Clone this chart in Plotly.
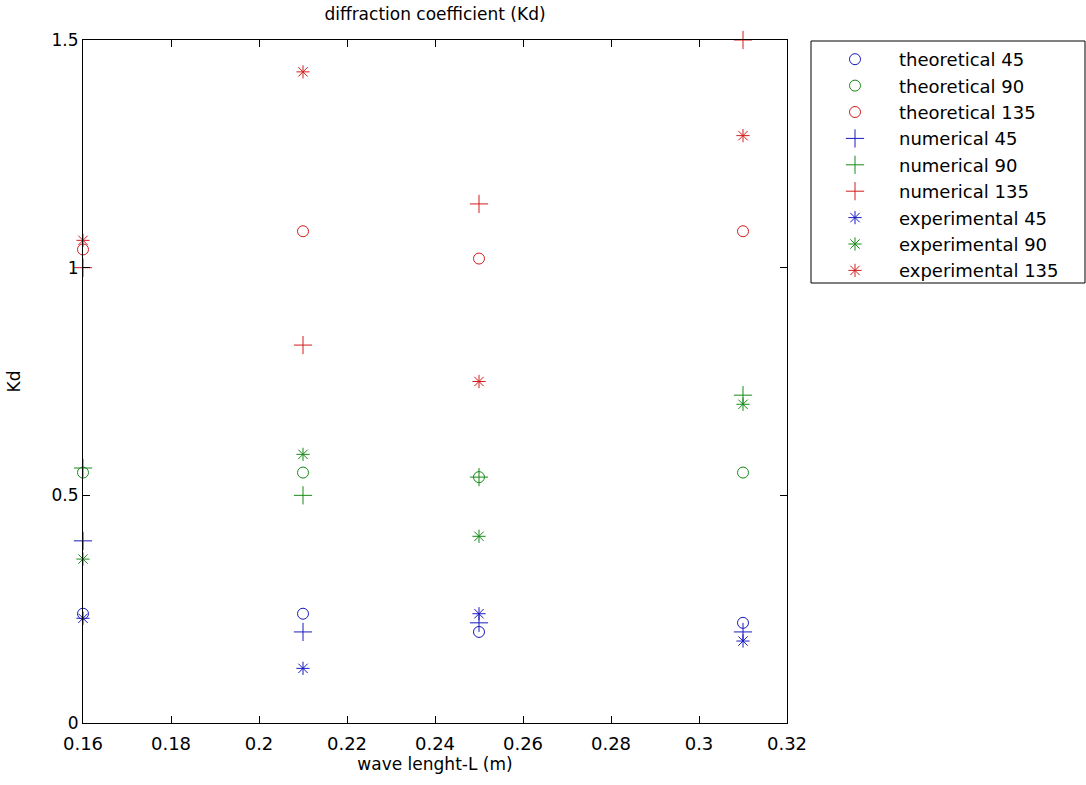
import plotly.graph_objects as go

wave_length = [0.16, 0.21, 0.25, 0.31]

theoretical_45 = [0.24, 0.24, 0.20, 0.22]
theoretical_90 = [0.55, 0.55, 0.54, 0.55]
theoretical_135 = [1.04, 1.08, 1.02, 1.08]
numerical_45 = [0.40, 0.20, 0.22, 0.20]
numerical_90 = [0.56, 0.50, 0.54, 0.72]
numerical_135 = [1.00, 0.83, 1.14, 1.50]
experimental_45 = [0.23, 0.12, 0.24, 0.18]
experimental_90 = [0.36, 0.59, 0.41, 0.70]
experimental_135 = [1.06, 1.43, 0.75, 1.29]

x_ticks = [0.16, 0.18, 0.2, 0.22, 0.24, 0.26, 0.28, 0.3, 0.32]
x_ticktext = ["0.16", "0.18", "0.2", "0.22", "0.24", "0.26", "0.28", "0.3", "0.32"]
y_ticks = [0, 0.5, 1, 1.5]
y_ticktext = ["0", "0.5", "1", "1.5"]

BLUE = "#1a1ac0"
GREEN = "#168a16"
RED = "#d41c1c"
FONT = "DejaVu Sans, Liberation Sans, Arial, sans-serif"

series = [
    ("theoretical 45", theoretical_45, BLUE, "circle-open", 11),
    ("theoretical 90", theoretical_90, GREEN, "circle-open", 11),
    ("theoretical 135", theoretical_135, RED, "circle-open", 11),
    ("numerical 45", numerical_45, BLUE, "cross-thin-open", 13),
    ("numerical 90", numerical_90, GREEN, "cross-thin-open", 13),
    ("numerical 135", numerical_135, RED, "cross-thin-open", 13),
    ("experimental 45", experimental_45, BLUE, "asterisk-open", 11),
    ("experimental 90", experimental_90, GREEN, "asterisk-open", 11),
    ("experimental 135", experimental_135, RED, "asterisk-open", 11),
]

W, H = 1086, 785
L, R, T, B = 83, 787, 40, 723

fig = go.Figure()
for name, vals, color, sym, size in series:
    fig.add_trace(go.Scatter(
        x=wave_length, y=vals, mode="markers", name=name,
        marker=dict(symbol=sym, size=size, color=color,
                    line=dict(color=color, width=1)),
        cliponaxis=False,
    ))

def px_x(p):
    return (p - L) / (R - L)

def px_y(p):
    return (B - p) / (B - T)

fig.update_layout(
    width=W, height=H,
    margin=dict(l=L, r=W - R, t=T, b=H - B),
    paper_bgcolor="white", plot_bgcolor="white",
    font=dict(family=FONT, color="black", size=19),
    title=dict(text="diffraction coefficient (Kd)", x=(L + R) / 2 / W, xanchor="center",
               y=1 - 14 / H, yanchor="middle", font=dict(size=17)),
    showlegend=True,
    legend=dict(
        x=px_x(811), xanchor="left", y=px_y(41), yanchor="top",
        borderwidth=0, bgcolor="rgba(0,0,0,0)",
        font=dict(size=18), itemwidth=78,
        tracegroupgap=0,
    ),
    shapes=[dict(type="rect", xref="paper", yref="paper",
                 x0=px_x(811), x1=px_x(1085), y0=px_y(283), y1=px_y(41),
                 line=dict(color="black", width=1), fillcolor="rgba(0,0,0,0)")],
)
fig.update_xaxes(
    range=[0.16, 0.32], tickvals=x_ticks, ticktext=x_ticktext,
    ticks="inside", ticklen=7, tickcolor="black", showline=True, linecolor="black",
    linewidth=1, mirror="ticks", showgrid=False, zeroline=False,
    title=dict(text="wave lenght-L (m)", font=dict(size=17), standoff=4),
    tickfont=dict(size=18), ticklabelstandoff=4,
)
fig.update_yaxes(
    range=[0, 1.5], tickvals=y_ticks, ticktext=y_ticktext,
    ticks="inside", ticklen=7, tickcolor="black", showline=True, linecolor="black",
    linewidth=1, mirror="ticks", showgrid=False, zeroline=False,
    title=dict(text="Kd", font=dict(size=17), standoff=26),
    tickfont=dict(size=17),
)

fig.write_html("out.html")
